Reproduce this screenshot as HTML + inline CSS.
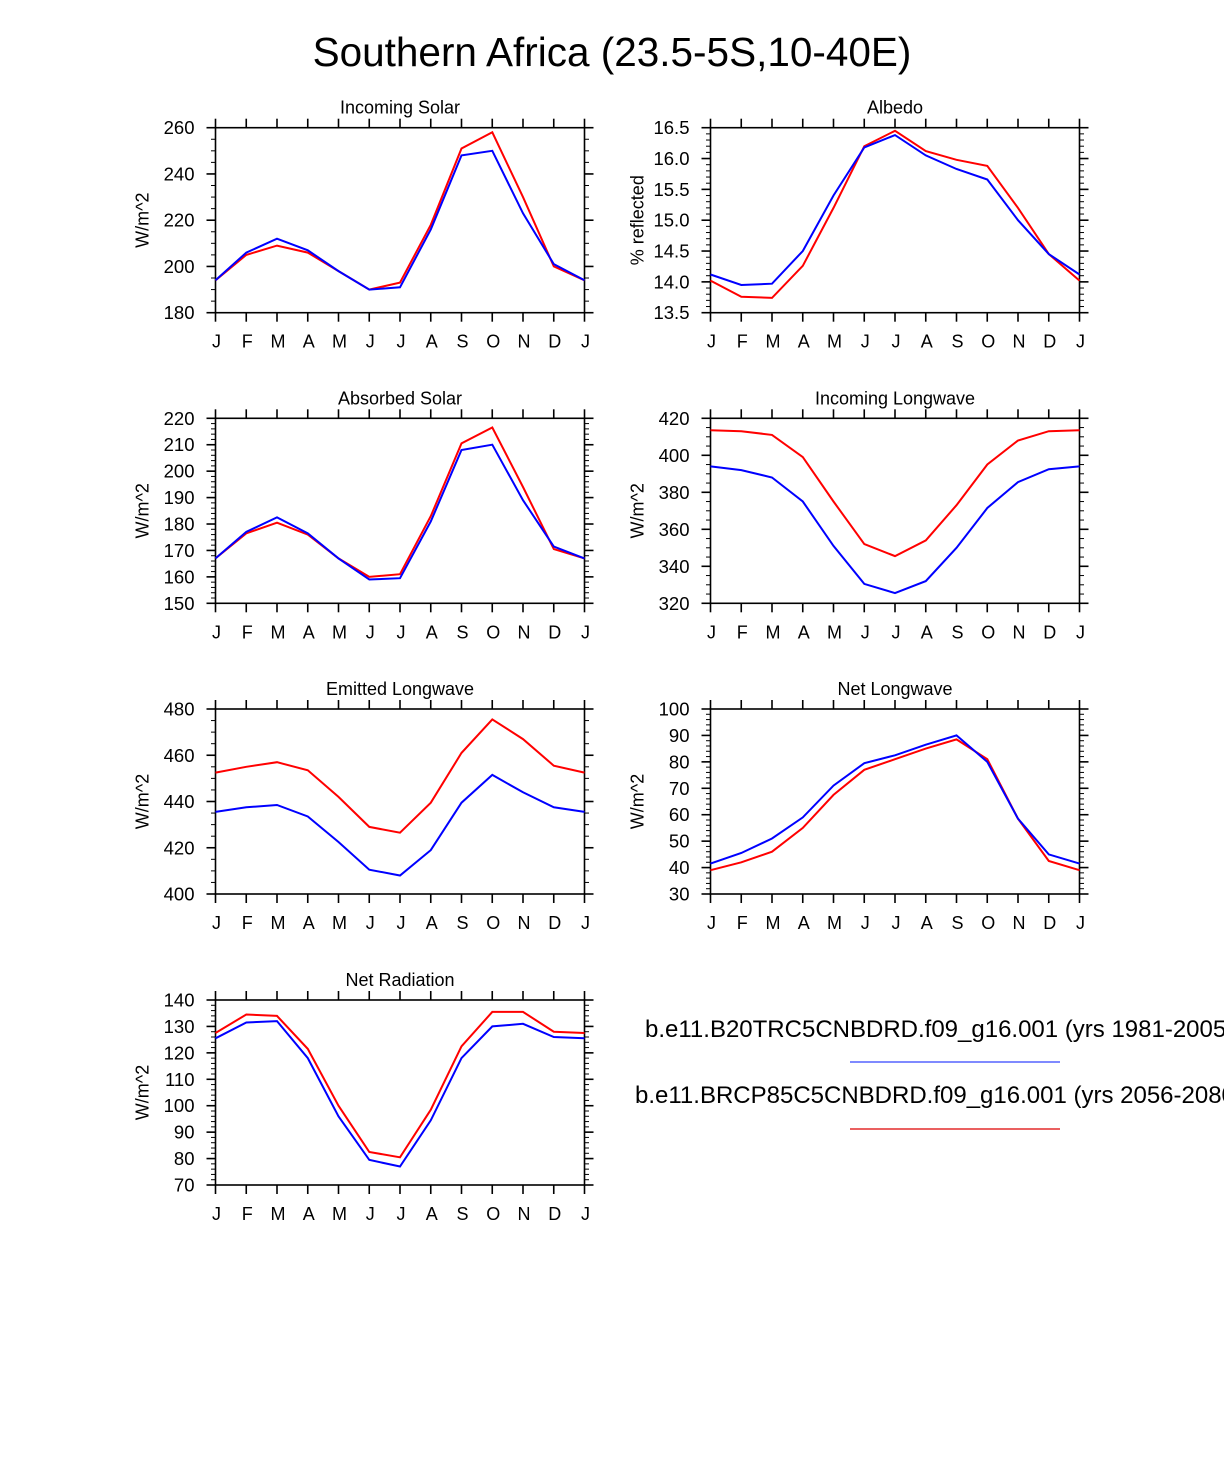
<!DOCTYPE html>
<html><head><meta charset="utf-8">
<style>
html,body{margin:0;padding:0;background:#fff;}
svg{display:block;font-family:"Liberation Sans",Arial,sans-serif;}
</style></head>
<body>
<svg id="fig" width="1224" height="1474" viewBox="0 0 1224 1474" xmlns="http://www.w3.org/2000/svg">
<rect x="0" y="0" width="1224" height="1474" fill="#fff"/>
<text x="612" y="66" font-size="40.5" text-anchor="middle" fill="#000">Southern Africa (23.5-5S,10-40E)</text>
<g>
<text x="645" y="1037" font-size="24" fill="#000">b.e11.B20TRC5CNBDRD.f09_g16.001 (yrs 1981-2005)</text>
<line x1="850" y1="1062" x2="1060" y2="1062" stroke="#3344ff" stroke-width="1.2"/>
<text x="635" y="1103" font-size="24" fill="#000">b.e11.BRCP85C5CNBDRD.f09_g16.001 (yrs 2056-2080)</text>
<line x1="850" y1="1129" x2="1060" y2="1129" stroke="#dd0000" stroke-width="1.2"/>
</g>
</svg>
<script>
const months = ["J","F","M","A","M","J","J","A","S","O","N","D","J"];
const panelTitles = ["Incoming Solar","Albedo","Absorbed Solar","Incoming Longwave","Emitted Longwave","Net Longwave","Net Radiation"];
const yTitles = ["W/m^2","% reflected","W/m^2","W/m^2","W/m^2","W/m^2","W/m^2"];
const yMins = [180,13.5,150,320,400,30,70];
const yMaxs = [260,16.5,220,420,480,100,140];
const yMajor = [20,0.5,10,20,20,10,10];
const yMinor = [5,0.1,2,5,5,2,2];
const yDecimals = [0,1,0,0,0,0,0];
const blueSeries = [
 [194,206,212,207,198,190,191,216,248,250,223,201,194],
 [14.12,13.95,13.97,14.5,15.4,16.18,16.38,16.05,15.83,15.66,15.0,14.45,14.12],
 [167,177,182.5,176.5,167,159,159.5,181,208,210,189,171.5,167],
 [394,392,388,375,351,330.5,325.5,332,350,371.5,385.5,392.5,394],
 [435.5,437.5,438.5,433.5,422.5,410.5,408,419,439.5,451.5,444,437.5,435.5],
 [41.5,45.5,51,59,71,79.5,82.5,86.5,90,80,58.5,45,41.5],
 [125.5,131.5,132,118,96,79.5,77,94.5,118,130,131,126,125.5]
];
const redSeries = [
 [194,205,209,206,198,190,193,218,251,258,230,200,194],
 [14.02,13.76,13.74,14.26,15.2,16.2,16.45,16.12,15.98,15.88,15.2,14.45,14.02],
 [167,176.5,180.5,176,167,160,161,183,210.5,216.5,194,170.5,167],
 [413.5,413,411,399,375,352,345.5,354,373,395,408,413,413.5],
 [452.5,455,457,453.5,442,429,426.5,439.5,461,475.5,467,455.5,452.5],
 [39,42,46,55,67.5,77,81,85,88.5,81,58.5,42.5,39],
 [127.5,134.5,134,121.5,100,82.5,80.5,98.5,122.5,135.5,135.5,128,127.5]
];
const NS="http://www.w3.org/2000/svg";
const svg=document.getElementById('fig');
function mk(tag,attrs,parent){const e=document.createElementNS(NS,tag);for(const k in attrs)e.setAttribute(k,attrs[k]);parent.appendChild(e);return e;}
const lefts=[215.5,710.5], tops=[127.7,418.3,709,1000], W=369, H=185;
panelTitles.forEach((t,p)=>{
  const L=lefts[p%2], T=tops[Math.floor(p/2)], R=L+W, B=T+H;
  const g=mk('g',{},svg);
  
  
  const xs=i=>L+i*W/12;
  const ys=v=>B-(v-yMins[p])/(yMaxs[p]-yMins[p])*H;
  const nMin=Math.round((yMaxs[p]-yMins[p])/yMinor[p]);
  for(let k=0;k<=nMin;k++){const y=ys(yMins[p]+k*yMinor[p]);
    mk('line',{x1:L-4.5,y1:y,x2:L,y2:y,stroke:'#000','stroke-width':1},g);
    mk('line',{x1:R,y1:y,x2:R+4.5,y2:y,stroke:'#000','stroke-width':1},g);}
  const nMaj=Math.round((yMaxs[p]-yMins[p])/yMajor[p]);
  for(let k=0;k<=nMaj;k++){const v=yMins[p]+k*yMajor[p];const y=ys(v);
    mk('line',{x1:L-9,y1:y,x2:L,y2:y,stroke:'#000','stroke-width':1.6},g);
    mk('line',{x1:R,y1:y,x2:R+9,y2:y,stroke:'#000','stroke-width':1.6},g);
    const tx=mk('text',{x:L-21,y:y+6.5,'font-size':18.5,'text-anchor':'end',fill:'#000'},g);
    
    
    tx.textContent=v.toFixed(yDecimals[p]);}
  months.forEach((m,i)=>{const x=xs(i);
    mk('line',{x1:x,y1:T-9,x2:x,y2:T,stroke:'#000','stroke-width':1.6},g);
    mk('line',{x1:x,y1:B,x2:x,y2:B+9,stroke:'#000','stroke-width':1.6},g);
    const tx=mk('text',{x:x+1,y:B+35,'font-size':18,'text-anchor':'middle',fill:'#000'},g);
    
    
    tx.textContent=m;});
  const box=mk('rect',{x:L,y:T,width:W,height:H,fill:'none',stroke:'#000','stroke-width':1.6},g);
  
  
  const tt=mk('text',{x:L+W/2,y:T-14,'font-size':18,'text-anchor':'middle',fill:'#000'},g);
  
  
  tt.textContent=t;
  const yt=mk('text',{x:0,y:0,'font-size':18,'text-anchor':'middle',fill:'#000',transform:'translate('+(L-67)+','+(T+H/2)+') rotate(-90)'},g);
  
  
  yt.textContent=yTitles[p];
  const pts=a=>a.map((v,i)=>xs(i).toFixed(1)+','+ys(v).toFixed(1)).join(' ');
  const rl=mk('polyline',{points:pts(redSeries[p]),fill:'none',stroke:'#ff0000','stroke-width':2},g);
  
  
  const bl=mk('polyline',{points:pts(blueSeries[p]),fill:'none',stroke:'#0000ff','stroke-width':2},g);
  
  
});
</script>
</body></html>
